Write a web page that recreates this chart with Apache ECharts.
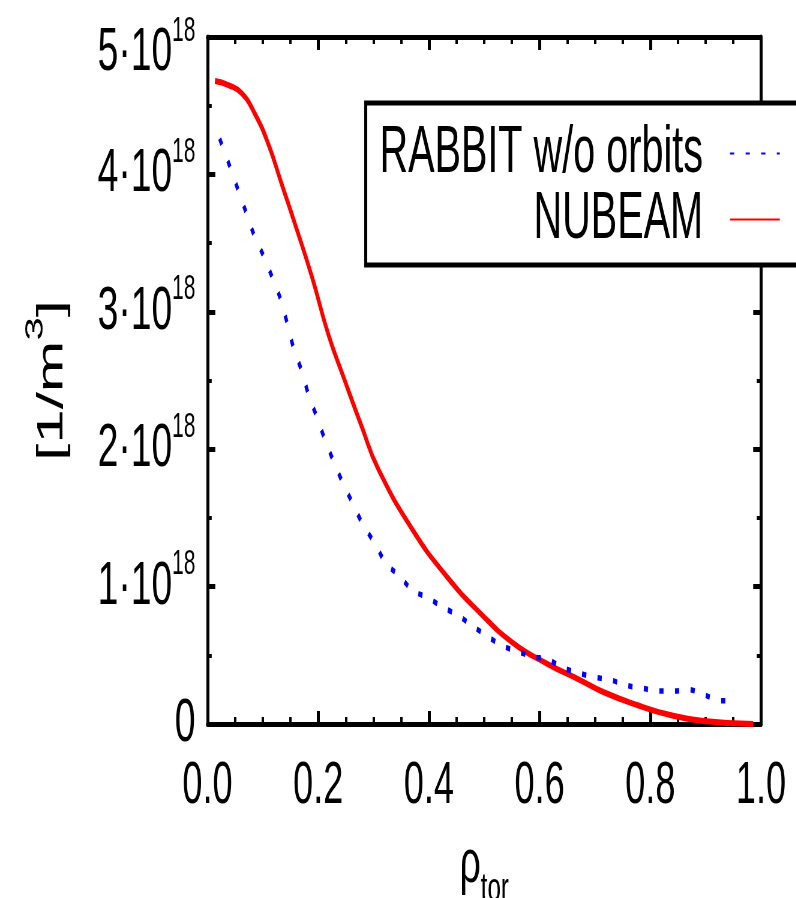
<!DOCTYPE html>
<html>
<head>
<meta charset="utf-8">
<script src="https://cdn.jsdelivr.net/npm/echarts@6/dist/echarts.min.js"></script>
<style>
    html, body { margin: 0; padding: 0; overflow: hidden; background: #fff; width: 796px; height: 898px; }
    #wrap { width: 796px; height: 898px; overflow: hidden; }
    /* the original picture is squeezed horizontally, so the chart is drawn wide and scaled */
    #chart { width: 1327px; height: 898px; transform: scaleX(0.6); transform-origin: 0 0; }
</style>
</head>
<body>
<div id="wrap"><div id="chart"></div></div>
<script>
// values in units of 1e18 m^-3
const rabbitRho = [0.022, 0.041, 0.055, 0.070, 0.084, 0.102, 0.118, 0.133, 0.145, 0.156,
    0.171, 0.183, 0.198, 0.212, 0.229, 0.245, 0.263, 0.281, 0.303, 0.322,
    0.346, 0.371, 0.398, 0.425, 0.453, 0.480, 0.505, 0.532, 0.559, 0.588,
    0.615, 0.642, 0.671, 0.700, 0.729, 0.758, 0.786, 0.814, 0.843, 0.870,
    0.899, 0.928, 0.955];
const rabbitVal = [4.26, 4.05, 3.89, 3.72, 3.56, 3.40, 3.24, 3.08, 2.90, 2.73,
    2.56, 2.39, 2.23, 2.07, 1.90, 1.75, 1.60, 1.45, 1.31, 1.17,
    1.08, 0.97, 0.92, 0.85, 0.79, 0.71, 0.64, 0.57, 0.53, 0.49,
    0.47, 0.41, 0.37, 0.34, 0.32, 0.28, 0.26, 0.24, 0.24, 0.25,
    0.21, 0.17, 0.17];

const nubeamRho = [0.0135, 0.0376, 0.0618, 0.0858, 0.110, 0.134, 0.158, 0.189, 0.218, 0.248,
    0.279, 0.308, 0.371, 0.433, 0.492, 0.552, 0.613, 0.673, 0.715, 0.776,
    0.836, 0.896, 0.986];
const nubeamVal = [4.68, 4.65, 4.59, 4.44, 4.22, 3.93, 3.64, 3.25, 2.84, 2.50,
    2.16, 1.86, 1.41, 1.07, 0.81, 0.59, 0.44, 0.32, 0.233, 0.138,
    0.065, 0.022, 0.0];

const seriesNames = ['RABBIT w/o orbits', 'NUBEAM'];
const xTickLabels = ['0.0', '0.2', '0.4', '0.6', '0.8', '1.0'];
const yTickMant = ['0', '1', '2', '3', '4', '5'];
const yTickExp = '18';

const FONT = 'Liberation Sans';
const pairs = (xs, ys) => xs.map((x, i) => [x, ys[i]]);

const chart = echarts.init(document.getElementById('chart'), null, { renderer: 'canvas' });

const tickStyle = { inside: true, length: 13, lineStyle: { color: '#000', width: 5 } };
const minorStyle = (n) => ({ show: true, splitNumber: n, length: 7, lineStyle: { color: '#000', width: 4 } });
const lineAxis = { onZero: false, lineStyle: { color: '#000', width: 5 } };

const option = {
    animation: false,
    backgroundColor: '#fff',
    grid: { left: 345.8, right: 58.7, top: 37, bottom: 174, outerBoundsMode: 'none' },
    legend: {
        orient: 'vertical',
        align: 'right',
        left: 609.5,
        top: 103,
        itemWidth: 83,
        itemHeight: 20,
        itemGap: 0,
        padding: [17.5, 60, 12.5, 23],
        backgroundColor: '#fff',
        borderColor: '#000',
        borderWidth: 5,
        borderRadius: 0,
        itemStyle: { opacity: 0 },
        textStyle: { fontFamily: FONT, fontSize: 66, lineHeight: 53, color: '#000', padding: [0, 40, 12, 0] },
        data: seriesNames
    },
    xAxis: [{
        type: 'value', min: 0, max: 1, interval: 0.2,
        name: '{r|ρ}{t|tor}', nameLocation: 'middle', nameGap: 110, nameMoveOverlap: false,
        nameTextStyle: {
            rich: {
                r: { fontFamily: FONT, fontSize: 62, lineHeight: 62, color: '#000' },
                t: { fontFamily: FONT, fontSize: 40, lineHeight: 40, padding: [50, 0, 0, 0], color: '#000' }
            }
        },
        axisLine: lineAxis, axisTick: tickStyle, minorTick: minorStyle(4),
        splitLine: { show: false },
        axisLabel: {
            margin: 32, fontFamily: FONT, fontSize: 60, color: '#000',
            formatter: (v) => xTickLabels[Math.round(v / 0.2)]
        }
    }, {
        type: 'value', position: 'top', min: 0, max: 1, interval: 0.2,
        axisLine: lineAxis, axisTick: tickStyle, minorTick: minorStyle(4),
        splitLine: { show: false }, axisLabel: { show: false }
    }],
    yAxis: [{
        type: 'value', min: 0, max: 5, interval: 1,
        name: '{a|[1/m}{b|3}{a|]}', nameLocation: 'middle', nameGap: 228, nameMoveOverlap: false,
        nameTextStyle: {
            rich: {
                a: { fontFamily: FONT, fontSize: 62, lineHeight: 62, color: '#000' },
                b: { fontFamily: FONT, fontSize: 42, lineHeight: 42, padding: [0, 0, 54, 0], color: '#000' }
            }
        },
        axisLine: lineAxis, axisTick: tickStyle, minorTick: minorStyle(2),
        splitLine: { show: false },
        axisLabel: {
            margin: 20,
            formatter: function (v) {
                const i = Math.round(v);
                if (i === 0) return '{m|' + yTickMant[0] + '}';
                if (i === 5) return '{mt|' + yTickMant[i] + '·10}{st|' + yTickExp + '}';
                return '{m|' + yTickMant[i] + '·10}{s|' + yTickExp + '}';
            },
            rich: {
                m: { fontFamily: FONT, fontSize: 62, lineHeight: 62, color: '#000' },
                s: { fontFamily: FONT, fontSize: 35, lineHeight: 35, padding: [0, 0, 44, 0], color: '#000' },
                mt: { fontFamily: FONT, fontSize: 62, lineHeight: 62, padding: [32, 0, 0, 0], color: '#000' },
                st: { fontFamily: FONT, fontSize: 35, lineHeight: 35, padding: [0, 0, 12, 0], color: '#000' }
            }
        }
    }, {
        type: 'value', position: 'right', min: 0, max: 5, interval: 1,
        axisLine: lineAxis, axisTick: tickStyle, minorTick: minorStyle(2),
        splitLine: { show: false }, axisLabel: { show: false }
    }],
    series: [{
        name: seriesNames[0],
        type: 'line',
        data: pairs(rabbitRho, rabbitVal),
        symbol: 'none',
        smooth: 0.3,
        z: 3,
        lineStyle: { color: '#0000ff', width: 5.5, type: [7, 19], cap: 'butt' },
        itemStyle: { color: '#0000ff' }
    }, {
        name: seriesNames[1],
        type: 'line',
        data: pairs(nubeamRho, nubeamVal),
        symbol: 'none',
        smooth: 0.5,
        z: 2,
        lineStyle: { color: '#ff0000', width: 6 },
        itemStyle: { color: '#ff0000' }
    }]
};

chart.setOption(option);
</script>
</body>
</html>
